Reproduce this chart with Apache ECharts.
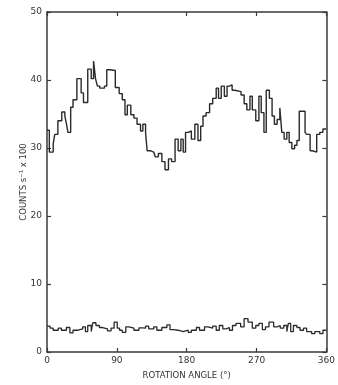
<!DOCTYPE html>
<html>
<head>
<meta charset="utf-8">
<script src="https://cdn.jsdelivr.net/npm/echarts@6/dist/echarts.min.js"></script>
<style>html,body{margin:0;padding:0;background:#fff;}#c{width:338px;height:385px;}</style>
</head>
<body>
<div id="c"></div>
<script>
const xTicks = [0, 90, 180, 270, 360];
const yTicks = [0, 10, 20, 30, 40, 50];

const upperAngles = [0,3,8,10,14,19,23,25,27,30.5,33.5,38.5,44,47,52.5,57,60,62.5,65,68,74,77,81,88,93,97,100.5,103.5,108,112,116,120.5,123.5,127,129,133,137.5,139.5,143.5,148,152,156.5,160.5,165,169,172.5,175.5,178.5,182,186,190.5,194.5,198,201,205,209.5,213.5,218,221,224.5,228.5,232,235,238.5,242,250,254,257.5,261.5,264.5,269,273,276,279.5,282.5,286.5,290,293,296.5,300,302.5,305.5,309,312,315.5,319,322,325,332.5,334.5,339,342,347.5,351.5,355.5];
const upperCounts = [32.6,29.4,30.6,32.0,34.0,35.3,34.7,33.6,32.3,36.0,37.1,40.2,38.1,36.7,41.6,40.2,42.8,40.2,39.1,38.8,39.1,41.5,41.4,38.9,38.0,37.1,34.9,36.3,34.9,34.4,33.5,32.5,33.5,32.3,29.6,29.4,29.2,28.7,29.2,28.0,26.8,28.4,28.0,31.3,29.6,31.3,29.4,32.3,32.5,31.3,33.5,31.1,33.2,34.7,35.2,36.5,37.3,38.8,37.3,39.1,37.6,39.1,39.3,38.5,38.3,37.8,36.5,35.6,37.6,35.6,34.0,37.6,35.2,32.3,38.5,37.3,34.7,33.5,34.2,35.9,32.3,31.3,32.3,30.8,29.9,30.4,31.1,35.4,32.3,32.0,29.6,29.4,32.0,32.3,32.8];

const lowerAngles = [0,4,8,14.5,18.5,25,29.5,33.5,40,46,49.5,52.5,57,59,63,67.5,71.5,78,82.5,86.5,90.5,93.5,97,101.5,105.5,112,118.5,122.5,127,131,137.5,141.5,148,154.5,158.5,163,169,175.5,182,186,192.5,196.5,203,207.5,213.5,218,222,226.5,230.5,235,239,243.5,249.5,254,259,264.5,269,273,277.5,281.5,286,292,296.5,300.5,305,309,311,314,317.5,322,326,330.5,334.5,341,345,351.5,355.5];
const lowerCounts = [3.8,3.5,3.2,3.5,3.2,3.6,2.8,3.2,3.4,3.7,3.0,3.9,3.0,4.3,3.9,3.6,3.4,3.1,3.5,4.4,3.5,3.2,2.9,3.7,3.5,3.2,3.55,3.5,3.8,3.4,3.7,3.2,3.6,4.0,3.3,3.2,3.0,3.2,2.9,3.2,3.6,3.2,3.7,3.5,3.8,3.2,3.9,3.4,3.6,3.2,3.9,4.2,3.7,4.9,4.4,3.5,3.9,4.2,3.3,3.7,4.4,3.7,3.9,3.5,3.9,3.0,4.2,3.0,3.9,3.6,3.2,3.5,3.0,2.7,3.0,2.7,3.2];

function steps(angles, counts) {
  const d = angles.map((a, i) => [a, counts[i]]);
  d.push([360, counts[counts.length - 1]]);
  return d;
}

const frame = '#3a3a3a';
const txt = '#333';
const font = 'DejaVu Sans';

function xAx(pos, show) {
  return {
    type: 'value', position: pos, min: xTicks[0], max: xTicks[xTicks.length - 1], interval: 90,
    axisLine: { show: true, onZero: false, lineStyle: { color: frame, width: 1.5 } },
    axisTick: { show: true, inside: true, length: 4, lineStyle: { color: frame, width: 1.2 } },
    axisLabel: { show: show, color: txt, fontFamily: font, fontSize: 9, margin: 4 },
    splitLine: { show: false },
    name: show ? 'ROTATION ANGLE (°)' : '', nameLocation: 'middle', nameGap: 19, nameMoveOverlap: false,
    nameTextStyle: { color: txt, fontFamily: font, fontSize: 8.5 }
  };
}
function yAx(pos, show) {
  return {
    type: 'value', position: pos, min: yTicks[0], max: yTicks[yTicks.length - 1], interval: 10,
    axisLine: { show: true, onZero: false, lineStyle: { color: frame, width: 1.5 } },
    axisTick: { show: true, inside: true, length: 4, lineStyle: { color: frame, width: 1.2 } },
    axisLabel: { show: show, color: txt, fontFamily: font, fontSize: 9, margin: 5 },
    splitLine: { show: false },
    name: show ? 'COUNTS s⁻¹ x 100' : '', nameLocation: 'middle', nameGap: 19, nameMoveOverlap: false,
    nameTextStyle: { color: txt, fontFamily: font, fontSize: 8.5 }
  };
}

const chart = echarts.init(document.getElementById('c'), null, { renderer: 'canvas' });
chart.setOption({
  animation: false,
  backgroundColor: '#fff',
  grid: { left: 47, right: 8, top: 12, bottom: 26, containLabel: false },
  xAxis: [xAx('bottom', true), xAx('top', false)],
  yAxis: [yAx('left', true), yAx('right', false)],
  series: [
    { type: 'line', step: 'end', data: steps(upperAngles, upperCounts), symbol: 'none',
      lineStyle: { color: '#2a2a2a', width: 1.4 } },
    { type: 'line', step: 'end', data: steps(lowerAngles, lowerCounts), symbol: 'none',
      lineStyle: { color: '#2a2a2a', width: 1.3 } }
  ]
});
</script>
</body>
</html>
